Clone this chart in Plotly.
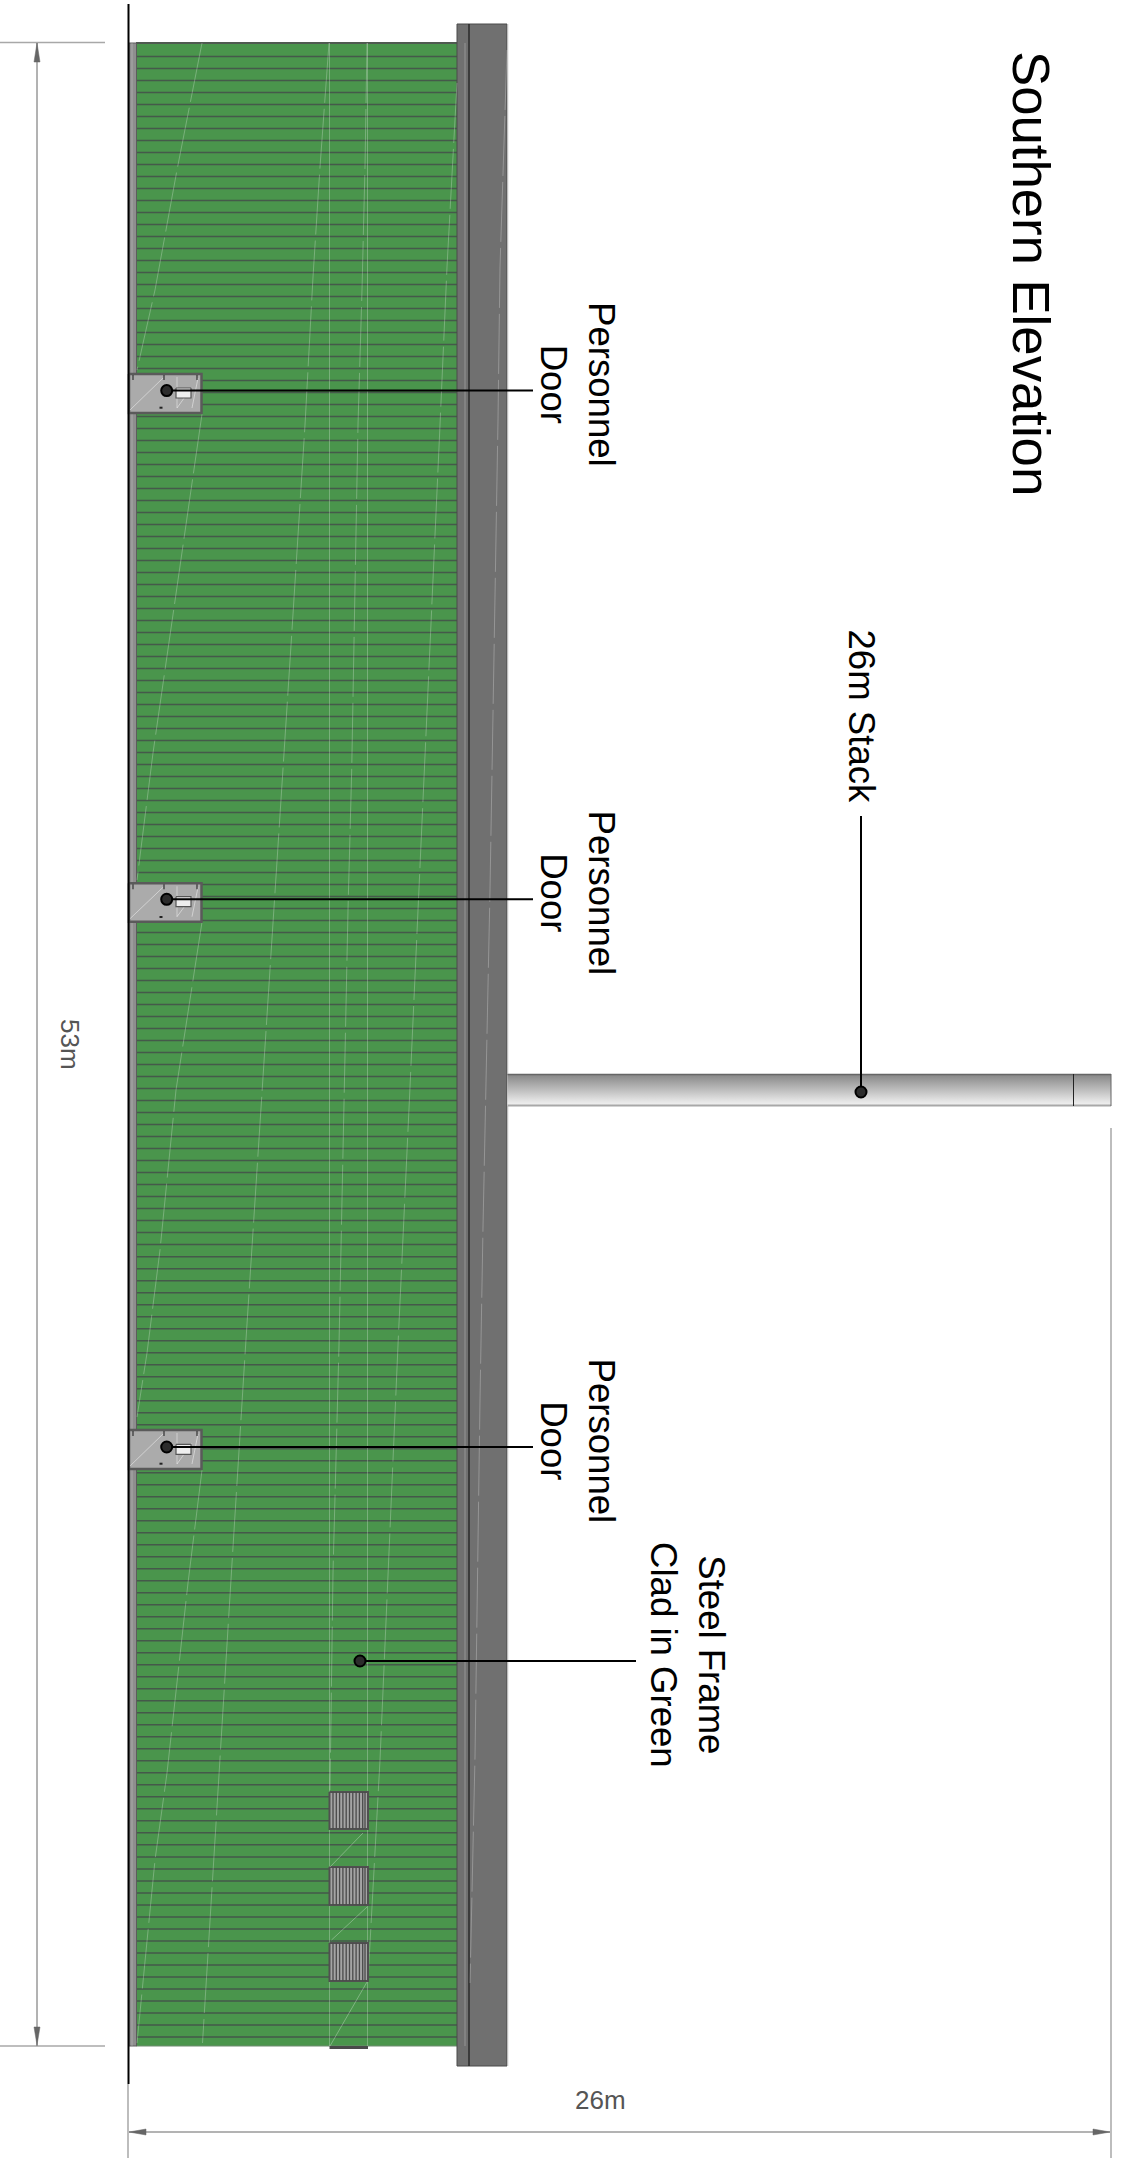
import plotly.graph_objects as go

# ---- drawing data, in drawing units ----
slat_y = [56.4,68.4,80.4,92.4,104.4,116.4,128.4,140.4,152.4,164.4,176.4,188.4,200.4,212.4,224.4,236.4,248.4,260.4,272.4,284.4,
296.4,308.4,320.4,332.4,344.4,356.4,368.4,380.4,392.4,404.4,416.4,428.4,440.4,452.4,464.4,476.4,488.4,500.4,512.4,524.4,
536.4,548.4,560.4,572.4,584.4,596.4,608.4,620.4,632.4,644.4,
656.6,668.6,680.6,692.6,704.6,716.6,728.6,740.6,752.6,764.6,776.6,788.6,800.6,812.6,824.6,836.6,848.6,860.6,872.6,884.6,
896.6,908.6,920.6,932.6,944.6,956.6,968.6,980.6,992.6,1004.6,1016.6,1028.6,1040.6,1052.6,1064.6,1076.6,1088.6,1100.6,1112.6,1124.6,
1136.6,1148.6,1160.6,1172.6,1184.6,1196.6,1208.6,1220.6,1232.6,1244.6,
1256.8,1268.8,1280.8,1292.8,1304.8,1316.8,1328.8,1340.8,1352.8,1364.8,1376.8,1388.8,1400.8,1412.8,1424.8,1436.8,1448.8,1460.8,1472.8,1484.8,
1496.8,1508.8,1520.8,1532.8,1544.8,1556.8,1568.8,1580.8,1592.8,1604.8,1616.8,1628.8,1640.8,1652.8,1664.8,1676.8,1688.8,1700.8,1712.8,1724.8,
1736.8,1748.8,1760.8,1772.8,1784.8,1796.8,1808.8,1820.8,1832.8,1844.8,
1857.0,1869.0,1881.0,1893.0,1905.0,1917.0,1929.0,1941.0,1953.0,1965.0,1977.0,1989.0,2001.0,2013.0,2025.0,2037.0]

door_top = [374, 883.3, 1430]
door_bottom = [413, 921.7, 1469]
door_leader_y = [390.6, 899.3, 1447]
door_label_y = [384.5, 893, 1441]

louvre_top = [1792, 1867, 1943]
louvre_bottom = [1829, 1905, 1981]
louvre_bar_x = [333, 336.3, 339.6, 342.9, 346.2, 349.5, 352.8, 356.1, 359.4, 362.7, 365]

streak_paths = [
    ([202, 177, 155, 137], [43, 170, 290, 370]),
    ([202, 177, 153, 137], [414, 587, 753, 880]),
    ([202, 176, 160, 147, 137], [922, 1090, 1250, 1353, 1417]),
    ([202, 188, 167, 155, 137], [1470, 1583, 1773, 1860, 2043]),
    ([329, 320, 313, 305, 292, 277, 263, 253, 245, 233, 220, 202.5], [43, 167, 277, 425, 630, 860, 1080, 1227, 1355, 1547, 1755, 2043]),
    ([367, 365, 362, 358, 355, 351.7, 348, 345, 340, 339, 333, 330], [43, 167, 290, 425, 587, 770, 910, 1060, 1293, 1345, 1573, 1790]),
    ([457, 447, 440, 430, 421, 410, 398, 389, 380, 368], [83, 267, 425, 647, 855, 1087, 1345, 1550, 1760, 1980]),
    ([507, 500, 498, 490, 483, 480, 475, 470], [50, 267, 420, 890, 1227, 1400, 1757, 1983]),
]
streak_straight_x = [132, 329.5, 367.5, 465]

labels = ["Personnel<br>Door", "26m Stack", "Steel Frame<br>Clad in Green", "Southern Elevation"]
dimension_labels = ["53m", "26m"]

GREEN = "#4a954c"
fig = go.Figure()


def poly(xs, ys, fill=None, line=None, lw=1.0, dash=None, opacity=None):
    tr = dict(x=xs, y=ys, mode="lines", hoverinfo="skip", showlegend=False)
    tr["line"] = dict(color=line or "rgba(0,0,0,0)", width=lw if line else 0, dash=dash)
    if fill:
        tr["fill"] = "toself"
        tr["fillcolor"] = fill
    if opacity is not None:
        tr["opacity"] = opacity
    fig.add_trace(go.Scatter(**tr))


def rect(x0, x1, y0, y1, fill=None, line=None, lw=1.0):
    poly([x0, x1, x1, x0, x0], [y0, y0, y1, y1, y0], fill, line, lw)


# cladding
rect(136, 457, 43, 2046, GREEN)
sx, sy = [], []
for y in slat_y:
    sx += [136, 457, None]
    sy += [y, y, None]
poly(sx, sy, line="#45594a", lw=1.5)
poly([136, 457], [43, 43], line="#4f5a50", lw=2)
poly([136, 457], [2046, 2046], line="#6f8a70", lw=1)

# left strip
rect(129, 136.5, 43, 2046, "#8e8e8e", "#5c5c5c", 1)

# roof band
rect(457, 507, 24, 2066, "#707070", "#4a4a4a", 1)
poly([469, 469], [24, 2066], line="#2a2a2a", lw=1.5)
poly([507.8, 507.8], [24, 2066], line="#c8c8c8", lw=1)

# faint streaks
for xs, ys in streak_paths:
    poly(xs, ys, line="rgba(255,255,255,0.26)", lw=1, dash="60px,6px")
for x in streak_straight_x:
    poly([x, x], [43, 2046], line="rgba(255,255,255,0.26)", lw=1)

# doors
for top, bot in zip(door_top, door_bottom):
    rect(129, 201.5, top, bot, "#ababab", "#5a5a5a", 2.5)
    poly([130, 163], [bot - 3, top + 4], line="rgba(255,255,255,0.45)", lw=1)
    poly([177, 177], [top + 3, bot - 5], line="rgba(255,255,255,0.45)", lw=1)
    poly([177, 192], [bot - 5, top + 13], line="rgba(255,255,255,0.45)", lw=1)
    poly([192, 198], [bot - 5, top + 4], line="rgba(255,255,255,0.45)", lw=1)
    for tx in [133, 164, 197]:
        poly([tx, tx], [top + 1, top + 6], line="#333333", lw=1.2)
    poly([159.5, 162.5], [top + 33.7, top + 33.7], line="#222222", lw=2)

for top, lead in zip(door_top, door_leader_y):
    rect(176, 191, lead - 2.6, lead + 7.4, "#eeeeee", "#555555", 1.2)

# louvres
for top, bot in zip(louvre_top, louvre_bottom):
    rect(329.5, 368, top, bot, "#a4a4a4", "#505050", 2)
    vx, vy = [], []
    for x in louvre_bar_x:
        vx += [x, x, None]
        vy += [top, bot, None]
    poly(vx, vy, line="#4a4a4a", lw=1.3)
poly([330, 363], [1867, 1833], line="rgba(255,255,255,0.3)", lw=1)
poly([331.5, 367], [1940, 1907], line="rgba(255,255,255,0.3)", lw=1)
poly([330, 367], [2046, 1982], line="rgba(255,255,255,0.3)", lw=1)
rect(329.5, 368, 2046, 2049, "#4a4a4a")

# stack
fig.add_trace(go.Scatter(
    x=[507.5, 1111, 1111, 507.5, 507.5], y=[1074, 1074, 1106, 1106, 1074],
    mode="lines", line=dict(width=0), fill="toself", hoverinfo="skip", showlegend=False,
    fillgradient=dict(type="vertical", colorscale=[[0, "#f4f4f4"], [0.2, "#e0e0e0"], [1, "#858585"]]),
))
poly([507.5, 1111], [1074.5, 1074.5], line="#666666", lw=1.6)
poly([507.5, 1111], [1105.5, 1105.5], line="#a8a8a8", lw=1.8)
poly([1111, 1111], [1074, 1106], line="#666666", lw=1)
poly([1073.5, 1073.5], [1074, 1106], line="#222222", lw=1)

# building base line
poly([128.5, 128.5], [4, 2084], line="#000000", lw=2)

# dimensions
DIM = "#666666"
poly([0, 105], [42.5, 42.5], line="#a8a8a8", lw=1.5)
poly([0, 105], [2046, 2046], line="#a8a8a8", lw=1.5)
poly([37, 37], [43, 2046], line=DIM, lw=1)
poly([37, 34, 40, 37], [43, 62, 62, 43], fill=DIM, line=DIM, lw=0.5)
poly([37, 34, 40, 37], [2045, 2027, 2027, 2045], fill=DIM, line=DIM, lw=0.5)
poly([128, 128], [2084, 2158], line="#9a9a9a", lw=1.3)
poly([1111, 1111], [1128, 2158], line="#9a9a9a", lw=1.3)
poly([129, 1110], [2132, 2132], line="#9a9a9a", lw=1.3)
poly([129, 146, 146, 129], [2132, 2129, 2135, 2132], fill=DIM, line=DIM, lw=0.5)
poly([1110, 1093, 1093, 1110], [2132, 2129, 2135, 2132], fill=DIM, line=DIM, lw=0.5)

# leaders
leader_x, leader_y = [], []
for y in door_leader_y:
    leader_x += [166.7, 533, None]
    leader_y += [y, y, None]
leader_x += [360, 636, None, 861, 861]
leader_y += [1661, 1661, None, 816, 1092]
poly(leader_x, leader_y, line="#000000", lw=2)
dot_x = [166.7, 166.7, 166.7, 360, 861]
dot_y = door_leader_y + [1661, 1092]
fig.add_trace(go.Scatter(x=dot_x, y=dot_y, mode="markers", hoverinfo="skip", showlegend=False,
                         marker=dict(size=11, color="#2c2c2c", line=dict(color="#000000", width=2))))

FONT = "Liberation Sans, Arial, sans-serif"
ann = []
for y in door_label_y:
    ann.append(dict(x=577.5, y=y, text=labels[0], textangle=90, font=dict(size=36.6, family=FONT, color="#000000")))
ann.append(dict(x=861.5, y=716, text=labels[1], textangle=90, font=dict(size=36.6, family=FONT, color="#000000")))
ann.append(dict(x=688, y=1655, text=labels[2], textangle=90, font=dict(size=36.6, family=FONT, color="#000000")))
ann.append(dict(x=1032, y=273, text=labels[3], textangle=90, font=dict(size=52.7, family=FONT, color="#000000")))
ann.append(dict(x=70, y=1044, text=dimension_labels[0], textangle=90, font=dict(size=26, family=FONT, color="#555555")))
ann.append(dict(x=600, y=2100, text=dimension_labels[1], textangle=0, font=dict(size=26, family=FONT, color="#555555")))
for a in ann:
    a.update(xref="x", yref="y", showarrow=False, xanchor="center", yanchor="middle", borderpad=0, borderwidth=0)

fig.update_layout(
    width=1129, height=2158, margin=dict(l=0, r=0, t=0, b=0),
    paper_bgcolor="#ffffff", plot_bgcolor="#ffffff", annotations=ann, showlegend=False,
    xaxis=dict(range=[0, 1129], visible=False, fixedrange=True),
    yaxis=dict(range=[2158, 0], visible=False, fixedrange=True),
)
fig.write_html("out.html", config=dict(displayModeBar=False),
               post_script="document.body.style.margin='0';document.documentElement.style.overflow='hidden';")
